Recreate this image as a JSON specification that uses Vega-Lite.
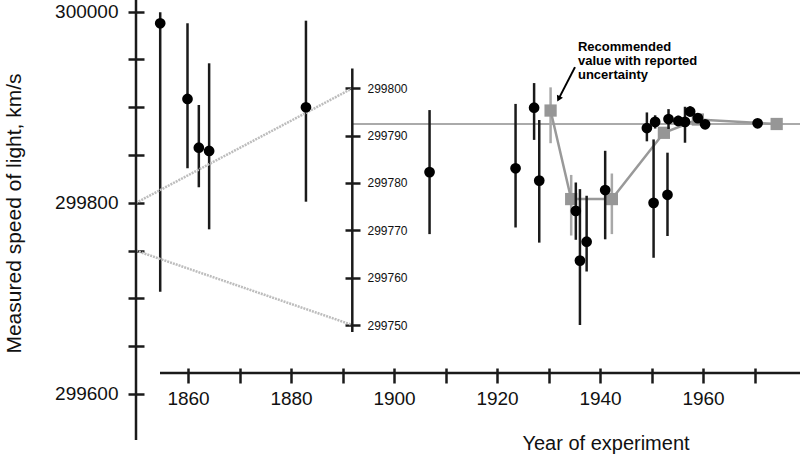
{
  "$schema": "https://vega.github.io/schema/vega-lite/v6.json",
  "width": 664,
  "height": 440,
  "autosize": "none",
  "padding": {"left": 136, "top": 0, "right": 0, "bottom": 15},
  "background": "white",
  "config": {
    "view": {"stroke": null},
    "font": "Liberation Sans",
    "axis": {"grid": false}
  },
  "datasets": {
    "early": [
      {"year": 1854.6, "speed": 299987.9, "lo": 299707.1, "hi": 299999.4},
      {"year": 1859.9, "speed": 299908.7, "lo": 299836.2, "hi": 299987.9},
      {"year": 1862.1, "speed": 299857.7, "lo": 299816.3, "hi": 299902.4},
      {"year": 1864.1, "speed": 299854.3, "lo": 299772.3, "hi": 299946.0},
      {"year": 1882.9, "speed": 299900.0, "lo": 299801.2, "hi": 299990.6}
    ],
    "modern": [
      {"year": 1906.9, "speed": 299782.3, "lo": 299769.2, "hi": 299795.4},
      {"year": 1923.6, "speed": 299783.1, "lo": 299770.6, "hi": 299796.7},
      {"year": 1927.2, "speed": 299795.9, "lo": 299789.1, "hi": 299801.1},
      {"year": 1928.2, "speed": 299780.5, "lo": 299767.4, "hi": 299793.3},
      {"year": 1935.3, "speed": 299774.1, "lo": 299768.0, "hi": 299780.1},
      {"year": 1936.1, "speed": 299763.6, "lo": 299750.0, "hi": 299778.7},
      {"year": 1937.4, "speed": 299767.6, "lo": 299761.3, "hi": 299777.3},
      {"year": 1941.0, "speed": 299778.5, "lo": 299768.1, "hi": 299786.8},
      {"year": 1949.1, "speed": 299791.6, "lo": 299788.8, "hi": 299794.9},
      {"year": 1950.4, "speed": 299775.8, "lo": 299764.2, "hi": 299789.2},
      {"year": 1950.7, "speed": 299792.9, "lo": 299791.5, "hi": 299794.3},
      {"year": 1953.1, "speed": 299777.5, "lo": 299768.8, "hi": 299786.4},
      {"year": 1953.3, "speed": 299793.5, "lo": 299791.4, "hi": 299795.6},
      {"year": 1955.2, "speed": 299793.1, "lo": 299792.0, "hi": 299794.2},
      {"year": 1956.5, "speed": 299792.9, "lo": 299788.5, "hi": 299796.1},
      {"year": 1957.5, "speed": 299795.1, "lo": 299794.0, "hi": 299796.2},
      {"year": 1959.0, "speed": 299793.7, "lo": 299793.0, "hi": 299794.4},
      {"year": 1960.4, "speed": 299792.4, "lo": 299791.8, "hi": 299793.0},
      {"year": 1970.6, "speed": 299792.6, "lo": 299792.3, "hi": 299792.9}
    ],
    "recommended": [
      {"year": 1930.4, "speed": 299795.3, "lo": 299788.4, "hi": 299800.2},
      {"year": 1934.4, "speed": 299776.6, "lo": 299768.9, "hi": 299781.7},
      {"year": 1942.3, "speed": 299776.6, "lo": 299769.2, "hi": 299782.0},
      {"year": 1952.4, "speed": 299790.6, "lo": 299789.8, "hi": 299791.4},
      {"year": 1959.0, "speed": 299793.4, "lo": 299793.1, "hi": 299793.7},
      {"year": 1974.3, "speed": 299792.46, "lo": 299792.2, "hi": 299792.7}
    ],
    "guides": [
      {"x": 1849.9, "y": 299800, "x2": 1891.9, "y2": 299919.85},
      {"x": 1849.9, "y": 299750, "x2": 1891.9, "y2": 299672.2}
    ],
    "note": [
      {"year": 1935.72, "speed": 299807.88, "label": ["Recommended", "value with reported", "uncertainty"]}
    ],
    "arrow": [
      {"year": 1935.14, "speed": 299804.47, "year2": 1931.96, "speed2": 299797.76}
    ]
  },
  "layer": [
    {
      "layer": [
        {
          "data": {"name": "early"},
          "mark": {"type": "rule", "color": "#1a1a1a", "strokeWidth": 2.5},
          "encoding": {
            "x": {
              "field": "year", "type": "quantitative",
              "scale": {"domain": [1849.9, 1978.83], "nice": false, "zero": false},
              "axis": {
                "orient": "bottom", "offset": -72, "domain": false,
                "values": [1860, 1870, 1880, 1890, 1900, 1910, 1920, 1930, 1940, 1950, 1960, 1970],
                "format": "d",
                "labelExpr": "datum.value % 20 == 0 ? datum.label : ''",
                "tickSize": 15, "tickWidth": 2.5, "tickColor": "#1a1a1a",
                "labelFontSize": 19, "labelColor": "#111", "labelPadding": 6,
                "title": "Year of experiment", "titleFontSize": 20, "titleFontWeight": "normal",
                "titleColor": "#111", "titleX": 469.5, "titleY": 81,
                "titleAlign": "center", "titleBaseline": "alphabetic"
              }
            },
            "y": {
              "field": "lo", "type": "quantitative",
              "scale": {"domain": [299551.87, 300012.24], "nice": false, "zero": false},
              "axis": {
                "orient": "left", "offset": -8, "domain": false,
                "values": [299600, 299650, 299700, 299750, 299800, 299850, 299900, 299950, 300000],
                "format": "d",
                "labelExpr": "datum.value % 200 == 0 ? datum.label : ''",
                "tickSize": 16, "tickWidth": 2.5, "tickColor": "#1a1a1a",
                "labelFontSize": 19, "labelColor": "#111", "labelPadding": 10,
                "title": "Measured speed of light, km/s", "titleFontSize": 21,
                "titleFontWeight": "normal", "titleColor": "#111",
                "titleX": -130, "titleY": 213, "titleAngle": -90,
                "titleAlign": "center", "titleBaseline": "middle"
              }
            },
            "y2": {"field": "hi"}
          }
        },
        {
          "data": {"name": "guides"},
          "mark": {"type": "rule", "color": "#bdbdbd", "strokeWidth": 2.5, "strokeDash": [2, 1]},
          "encoding": {
            "x": {"field": "x", "type": "quantitative"},
            "y": {"field": "y", "type": "quantitative"},
            "x2": {"field": "x2"},
            "y2": {"field": "y2"}
          }
        },
        {
          "data": {"name": "early"},
          "mark": {"type": "point", "shape": "circle", "filled": true, "color": "#000", "opacity": 1, "size": 115},
          "encoding": {
            "x": {"field": "year", "type": "quantitative"},
            "y": {"field": "speed", "type": "quantitative"}
          }
        },
        {
          "data": {"values": [{}]},
          "mark": {"type": "rule", "color": "#1a1a1a", "strokeWidth": 2.5},
          "encoding": {
            "x": {"datum": 1849.9, "type": "quantitative"}
          }
        },
        {
          "data": {"values": [{}]},
          "mark": {"type": "rule", "color": "#1a1a1a", "strokeWidth": 2.5},
          "encoding": {
            "x": {"datum": 1854.56, "type": "quantitative"},
            "x2": {"datum": 1978.83},
            "y": {"datum": 299621.97, "type": "quantitative"}
          }
        }
      ]
    },
    {
      "layer": [
        {
          "data": {"values": [{}]},
          "mark": {"type": "rule", "color": "#aaaaaa", "strokeWidth": 2},
          "encoding": {
            "x": {"datum": 1891.9, "type": "quantitative"},
            "x2": {"datum": 1978.83},
            "y": {
              "datum": 299792.458, "type": "quantitative",
              "scale": {"domain": [299725.71, 299818.65], "nice": false, "zero": false},
              "axis": {
                "orient": "right", "offset": -455, "domain": false,
                "values": [299750, 299760, 299770, 299780, 299790, 299800],
                "format": "d",
                "tickSize": 15, "tickWidth": 2.5, "tickColor": "#1a1a1a",
                "labelFontSize": 12, "labelColor": "#111", "labelPadding": 7,
                "title": null
              }
            }
          }
        },
        {
          "data": {"values": [{}]},
          "mark": {"type": "rule", "color": "#1a1a1a", "strokeWidth": 2.5},
          "encoding": {
            "x": {"datum": 1891.9, "type": "quantitative"},
            "y": {"datum": 299804.2, "type": "quantitative"},
            "y2": {"datum": 299748.5}
          }
        },
        {
          "data": {"name": "recommended"},
          "mark": {"type": "rule", "color": "#a8a8a8", "strokeWidth": 2.5},
          "encoding": {
            "x": {"field": "year", "type": "quantitative"},
            "y": {"field": "lo", "type": "quantitative"},
            "y2": {"field": "hi"}
          }
        },
        {
          "data": {"name": "recommended"},
          "mark": {"type": "line", "color": "#999999", "strokeWidth": 2.5},
          "encoding": {
            "x": {"field": "year", "type": "quantitative"},
            "y": {"field": "speed", "type": "quantitative"}
          }
        },
        {
          "data": {"name": "recommended"},
          "mark": {"type": "point", "shape": "square", "filled": true, "color": "#969696", "opacity": 1, "size": 150},
          "encoding": {
            "x": {"field": "year", "type": "quantitative"},
            "y": {"field": "speed", "type": "quantitative"}
          }
        },
        {
          "data": {"name": "modern"},
          "mark": {"type": "rule", "color": "#1a1a1a", "strokeWidth": 2.5},
          "encoding": {
            "x": {"field": "year", "type": "quantitative"},
            "y": {"field": "lo", "type": "quantitative"},
            "y2": {"field": "hi"}
          }
        },
        {
          "data": {"name": "modern"},
          "mark": {"type": "point", "shape": "circle", "filled": true, "color": "#000", "opacity": 1, "size": 115},
          "encoding": {
            "x": {"field": "year", "type": "quantitative"},
            "y": {"field": "speed", "type": "quantitative"}
          }
        },
        {
          "data": {"name": "arrow"},
          "mark": {"type": "rule", "color": "#000", "strokeWidth": 2},
          "encoding": {
            "x": {"field": "year", "type": "quantitative"},
            "y": {"field": "speed", "type": "quantitative"},
            "x2": {"field": "year2"},
            "y2": {"field": "speed2"}
          }
        },
        {
          "data": {"name": "arrow"},
          "mark": {"type": "point", "shape": "triangle-up", "filled": true, "color": "#000", "opacity": 1, "size": 45, "angle": 207},
          "encoding": {
            "x": {"field": "year2", "type": "quantitative"},
            "y": {"field": "speed2", "type": "quantitative"}
          }
        },
        {
          "data": {"name": "note"},
          "mark": {"type": "text", "align": "left", "baseline": "alphabetic", "fontSize": 13, "fontWeight": "bold", "lineHeight": 14, "color": "#000"},
          "encoding": {
            "x": {"field": "year", "type": "quantitative"},
            "y": {"field": "speed", "type": "quantitative"},
            "text": {"field": "label"}
          }
        }
      ]
    }
  ],
  "resolve": {"scale": {"y": "independent"}}
}
